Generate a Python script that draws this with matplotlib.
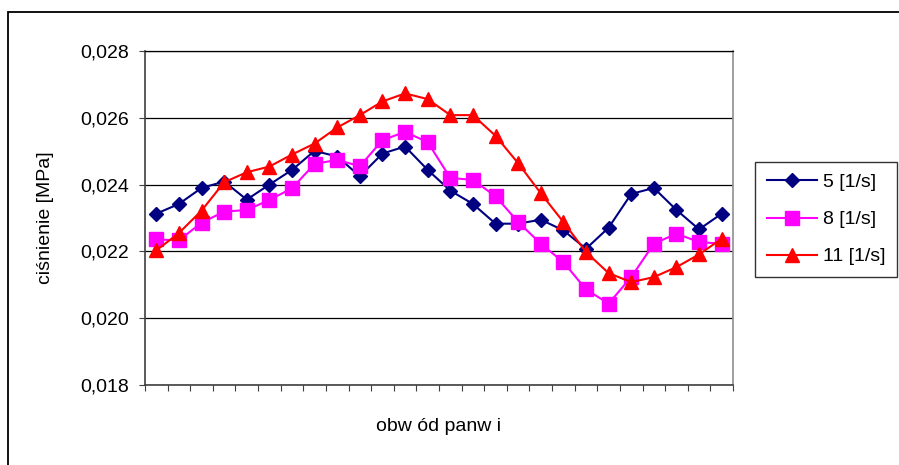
import numpy as np
import matplotlib
matplotlib.use("Agg")
import matplotlib.pyplot as plt
from matplotlib.ticker import FuncFormatter, FixedLocator
from matplotlib.patches import Rectangle

plt.rcParams['font.family'] = ['Liberation Sans', 'DejaVu Sans']

# pressure along the bearing circumference, 26 measuring points
points = np.arange(1, 27)
p_5 = [0.02313, 0.02342, 0.02390, 0.02409, 0.02355, 0.02400, 0.02444, 0.02501,
       0.02484, 0.02425, 0.02493, 0.02514, 0.02444, 0.02382, 0.02342, 0.02283,
       0.02283, 0.02295, 0.02263, 0.02208, 0.02271, 0.02372, 0.02390, 0.02324,
       0.02266, 0.02313]
p_8 = [0.02236, 0.02233, 0.02286, 0.02319, 0.02324, 0.02354, 0.02389, 0.02462,
       0.02474, 0.02455, 0.02533, 0.02558, 0.02527, 0.02420, 0.02414, 0.02365,
       0.02288, 0.02223, 0.02168, 0.02086, 0.02044, 0.02123, 0.02223, 0.02253,
       0.02228, 0.02223]
p_11 = [0.02203, 0.02255, 0.02322, 0.02407, 0.02437, 0.02454, 0.02490, 0.02523,
        0.02571, 0.02608, 0.02649, 0.02673, 0.02656, 0.02608, 0.02608, 0.02546,
        0.02464, 0.02374, 0.02288, 0.02198, 0.02135, 0.02108, 0.02123, 0.02153,
        0.02191, 0.02238]
series_labels = ['5 [1/s]', '8 [1/s]', '11 [1/s]']
y_ticks = [0.018, 0.020, 0.022, 0.024, 0.026, 0.028]

W, H = 899, 465
fig = plt.figure(figsize=(W / 100, H / 100), dpi=100)
ax = fig.add_axes([145 / W, 1 - 385 / H, 588 / W, 334 / H])

ax.plot(points, p_5, color='#000080', lw=1.5, marker='D', ms=6.8,
        label=series_labels[0], zorder=3)
ax.plot(points, p_8, color='#FF00FF', lw=1.5, marker='s', ms=9.5,
        label=series_labels[1], zorder=3)
ax.plot(points, p_11, color='#FF0000', lw=1.5, marker='^', ms=9.5,
        label=series_labels[2], zorder=3)

ax.set_xlim(0.5, 26.5)
ax.set_ylim(0.018, 0.028)
ax.xaxis.set_major_locator(FixedLocator(np.arange(0.5, 27, 1)))
ax.xaxis.set_major_formatter(FuncFormatter(lambda v, p: ''))
ax.yaxis.set_major_locator(FixedLocator(y_ticks))
ax.yaxis.set_major_formatter(FuncFormatter(lambda v, p: f'{v:.3f}'.replace('.', ',')))
ax.tick_params(axis='both', direction='out', length=4.5, width=0.8,
               color='#404040', labelsize=14, pad=7)
ax.tick_params(axis='y', labelcolor='black')

ax.grid(axis='y', color='black', lw=0.9, zorder=1)
ax.set_axisbelow(True)
for side in ('left', 'bottom'):
    ax.spines[side].set_color('#404040')
    ax.spines[side].set_linewidth(1.2)
ax.spines['right'].set_color('#909090')
ax.spines['right'].set_linewidth(1.2)
ax.spines['top'].set_color('black')
ax.spines['top'].set_linewidth(0.9)

ax.set_ylabel('ciśnienie [MPa]', fontsize=14, labelpad=19)
ax.set_xlabel('obw ód panw i', fontsize=14, labelpad=12)

leg = fig.legend(loc='upper left', bbox_to_anchor=(755 / W, 1 - 162 / H),
                 fontsize=14, frameon=True, fancybox=False, handlelength=2.6,
                 handletextpad=0.3, labelspacing=1.0, borderpad=0.6,
                 borderaxespad=0)
leg.get_frame().set_edgecolor('black')
leg.get_frame().set_linewidth(1.0)

# outer chart border
fig.patches.append(Rectangle((7.5 / W, -0.05), 1.1, 1 - 12 / H + 0.05,
                             transform=fig.transFigure, fill=False,
                             edgecolor='black', lw=1.3))

fig.savefig('out.png', dpi=100)
